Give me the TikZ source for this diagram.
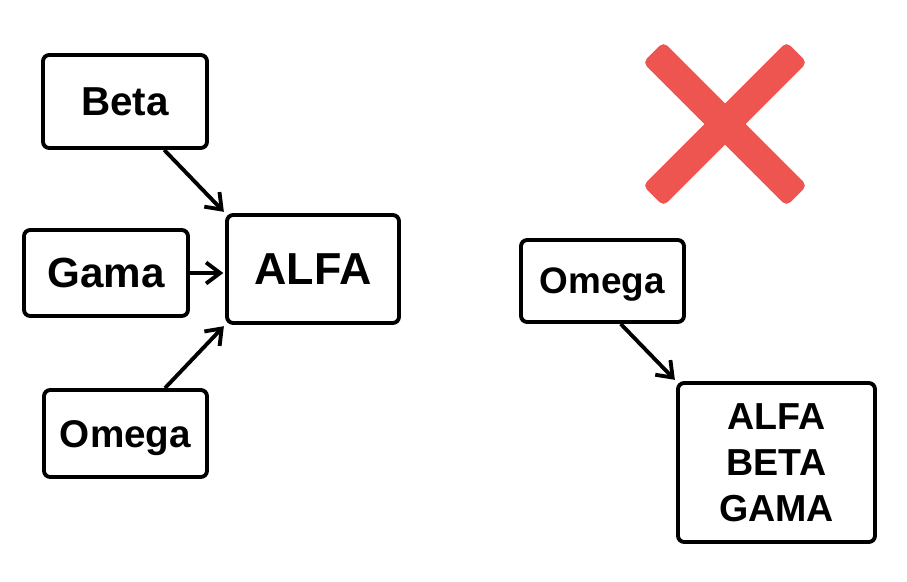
\documentclass[tikz,border=0pt]{standalone}
\usepackage{fontspec}
\setmainfont{Liberation Sans}
\usetikzlibrary{arrows.meta}
\definecolor{crossred}{RGB}{238,84,80}
\tikzset{
  box/.style={draw, line width=2.2pt, rounded corners=3.5pt, inner sep=0pt, align=center, text depth=0pt},
  link/.style={line width=2.2pt, -{Straight Barb[length=8pt,width=12pt]}, shorten >=1pt},
  bar/.style={fill=crossred, rounded corners=3pt, minimum width=4.06cm, minimum height=0.58cm, inner sep=0pt}
}
\begin{document}
\begin{tikzpicture}[x=0.02cm, y=-0.02cm]
				\useasboundingbox (0,0) rectangle (907,582);
				% left: three boxes into ALFA
				\node[box, minimum width=3.28cm, minimum height=1.86cm, font=\bfseries\fontsize{23pt}{28pt}\selectfont] (beta) at (125,101.5) {Beta};
				\node[box, minimum width=3.28cm, minimum height=1.72cm, font=\bfseries\fontsize{24pt}{29pt}\selectfont] (gama) at (106,273) {Gama};
				\node[box, minimum width=3.44cm, minimum height=2.16cm, font=\bfseries\fontsize{25.5pt}{30pt}\selectfont] (alfa) at (313,269) {ALFA};
				\node[box, minimum width=3.26cm, minimum height=1.74cm, font=\bfseries\fontsize{22pt}{27pt}\selectfont] (omegaL) at (125.5,433.5) {Omega};
				\draw[link] (beta.-51) -- (alfa.north west);
				\draw[link] (gama.east) -- (gama.east -| alfa.west);
				\draw[link] (omegaL.49) -- (alfa.south west);
				% cross
				\node[bar, rotate=45] (barA) at (725,124) {};
				\node[bar, rotate=-45] (barB) at (725,124) {};
				% right: one box into the merged box
				\node[box, minimum width=3.26cm, minimum height=1.64cm, font=\bfseries\fontsize{21pt}{26pt}\selectfont] (omegaR) at (602.5,281) {Omega};
				\node[box, minimum width=3.94cm, minimum height=3.18cm, font=\bfseries\fontsize{21.4pt}{26.2pt}\selectfont] (merged) at (776.5,462.5) {ALFA\\BETA\\GAMA};
				\draw[link] (omegaR.-67) -- (merged.north west);
			\end{tikzpicture}
\end{document}
